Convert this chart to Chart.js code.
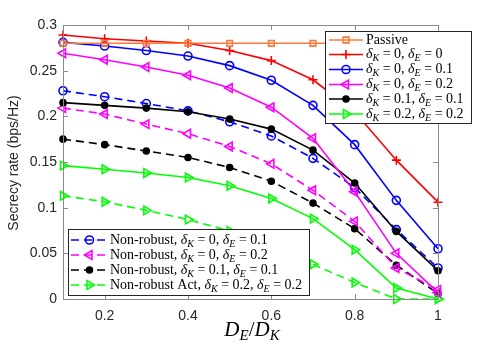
<!DOCTYPE html>
<html lang="en">
<head>
    <meta charset="UTF-8">
    <title>Secrecy rate vs DE/DK</title>
    <script src="https://cdn.jsdelivr.net/npm/chart.js"></script>
    <style>
        html, body { margin: 0; padding: 0; background: #fff; }
        #wrap { width: 485px; height: 346px; }
    </style>
</head>
<body>
    <div id="wrap"><canvas id="rateChart" width="485" height="346"></canvas></div>

    <script>
        // x axis: D_E / D_K
        const ratios = [0.1, 0.2, 0.3, 0.4, 0.5, 0.6, 0.7, 0.8, 0.9, 1.0];
        const xTicks = [0.2, 0.4, 0.6, 0.8, 1];
        const yTicks = [0, 0.05, 0.1, 0.15, 0.2, 0.25, 0.3];

        // secrecy rate (bps/Hz)
        const passive      = [0.28, 0.28, 0.28, 0.28, 0.28, 0.28, 0.28, 0.28, 0.28, 0.28];
        const robust_0_0   = [0.289, 0.285, 0.2825, 0.280, 0.272, 0.261, 0.240, 0.205, 0.152, 0.106];
        const robust_0_01  = [0.281, 0.277, 0.272, 0.266, 0.2555, 0.2395, 0.212, 0.169, 0.108, 0.055];
        const robust_0_02  = [0.269, 0.262, 0.254, 0.245, 0.231, 0.210, 0.176, 0.1175, 0.050, 0.007];
        const robust_01_01 = [0.215, 0.212, 0.209, 0.205, 0.197, 0.186, 0.163, 0.127, 0.074, 0.031];
        const robust_02_02 = [0.146, 0.142, 0.138, 0.133, 0.124, 0.110, 0.088, 0.054, 0.012, 0.0];
        const naive_0_01   = [0.228, 0.2215, 0.214, 0.206, 0.194, 0.1785, 0.154, 0.122, 0.076, 0.034];
        const naive_0_02   = [0.209, 0.2025, 0.1915, 0.181, 0.167, 0.148, 0.119, 0.085, 0.034, 0.010];
        const naive_01_01  = [0.175, 0.169, 0.162, 0.155, 0.144, 0.129, 0.105, 0.077, 0.037, 0.006];
        const naiveAct_02  = [0.113, 0.1065, 0.097, 0.087, 0.0745, 0.057, 0.038, 0.018, 0.0, 0.0];

        const series = [
            { label: 'Passive', data: passive, color: 'rgb(255,120,60)', dash: [], marker: 'rect', rot: 0, fill: false, r: 4, legend: 1 },
            { label: '$δ_K = 0$, $δ_E = 0$', data: robust_0_0, color: '#ff0000', dash: [], marker: 'cross', rot: 0, fill: false, r: 4.5, legend: 1 },
            { label: '$δ_K = 0$, $δ_E = 0.1$', data: robust_0_01, color: '#0000ff', dash: [], marker: 'circle', rot: 0, fill: false, r: 4, legend: 1 },
            { label: '$δ_K = 0$, $δ_E = 0.2$', data: robust_0_02, color: '#ff00ff', dash: [], marker: 'triangle', rot: -90, fill: false, r: 5, legend: 1 },
            { label: '$δ_K = 0.1$, $δ_E = 0.1$', data: robust_01_01, color: '#000000', dash: [], marker: 'circle', rot: 0, fill: true, r: 3, legend: 1 },
            { label: '$δ_K = 0.2$, $δ_E = 0.2$', data: robust_02_02, color: '#00ff00', dash: [], marker: 'triangle', rot: 90, fill: false, r: 5, legend: 1 },
            { label: 'Non-robust, $δ_K = 0$, $δ_E = 0.1$', data: naive_0_01, color: '#0000ff', dash: [8, 5], marker: 'circle', rot: 0, fill: false, r: 4, legend: 2 },
            { label: 'Non-robust, $δ_K = 0$, $δ_E = 0.2$', data: naive_0_02, color: '#ff00ff', dash: [8, 5], marker: 'triangle', rot: -90, fill: false, r: 5, legend: 2 },
            { label: 'Non-robust, $δ_K = 0.1$, $δ_E = 0.1$', data: naive_01_01, color: '#000000', dash: [8, 5], marker: 'circle', rot: 0, fill: true, r: 3, legend: 2 },
            { label: 'Non-robust Act, $δ_K = 0.2$, $δ_E = 0.2$', data: naiveAct_02, color: '#00ff00', dash: [8, 5], marker: 'triangle', rot: 90, fill: false, r: 5, legend: 2 }
        ];

        const SERIF = '"Liberation Serif", "DejaVu Serif", serif';
        const SANS = '"Liberation Sans", Arial, sans-serif';

        // draw text with $math$ parts: letters italic, _X subscripts
        function richParts(str, size) {
            const parts = [];
            let math = false;
            for (let i = 0; i < str.length; i++) {
                const c = str[i];
                if (c === '$') { math = !math; continue; }
                if (math && c === '_') {
                    parts.push({ t: str[i + 1], font: 'italic ' + Math.round(size * 0.72) + 'px ' + SERIF, dy: size * 0.28 });
                    i++;
                    continue;
                }
                const italic = math && /[A-Za-zδ]/.test(c);
                parts.push({ t: c, font: (italic ? 'italic ' : '') + size + 'px ' + SERIF, dy: 0 });
            }
            return parts;
        }

        function richWidth(ctx, str, size) {
            let w = 0;
            richParts(str, size).forEach(p => { ctx.font = p.font; w += ctx.measureText(p.t).width; });
            return w;
        }

        function drawRich(ctx, str, x, y, size) {
            ctx.textBaseline = 'middle';
            ctx.textAlign = 'left';
            richParts(str, size).forEach(p => {
                ctx.font = p.font;
                ctx.fillText(p.t, x, y + p.dy);
                x += ctx.measureText(p.t).width;
            });
        }

        function drawLegend(ctx, items, box, rows, lineX0, lineX1, textX, size) {
            ctx.save();
            ctx.fillStyle = '#fff';
            ctx.fillRect(box.x, box.y, box.w, box.h);
            ctx.strokeStyle = '#262626';
            ctx.lineWidth = 1;
            ctx.strokeRect(box.x + 0.5, box.y + 0.5, box.w, box.h);
            items.forEach((s, i) => {
                const y = rows[i];
                ctx.strokeStyle = s.color;
                ctx.lineWidth = 1.6;
                ctx.setLineDash(s.dash);
                ctx.beginPath();
                ctx.moveTo(lineX0, y);
                ctx.lineTo(lineX1, y);
                ctx.stroke();
                ctx.setLineDash([]);
                ctx.fillStyle = s.fill ? s.color : 'rgba(0,0,0,0)';
                Chart.helpers.drawPoint(ctx, { pointStyle: s.marker, radius: s.r, rotation: s.rot, borderWidth: 1.6 }, (lineX0 + lineX1) / 2, y);
                ctx.fillStyle = '#000';
                drawRich(ctx, s.label, textX, y, size);
            });
            ctx.restore();
        }

        const decorations = {
            id: 'decorations',
            afterDatasetsDraw(chart) {
                const ctx = chart.ctx;
                const a = chart.chartArea;
                const xs = chart.scales.x, ys = chart.scales.y;
                ctx.save();
                // axes box + inward ticks on all sides
                ctx.strokeStyle = '#8a8a8a';
                ctx.lineWidth = 1;
                ctx.strokeRect(Math.round(a.left) + 0.5, Math.round(a.top) + 0.5, Math.round(a.right - a.left), Math.round(a.bottom - a.top));
                ctx.beginPath();
                xTicks.forEach(v => {
                    const px = Math.round(xs.getPixelForValue(v)) + 0.5;
                    ctx.moveTo(px, a.bottom); ctx.lineTo(px, a.bottom - 5);
                    ctx.moveTo(px, a.top); ctx.lineTo(px, a.top + 5);
                });
                yTicks.forEach(v => {
                    const py = Math.round(ys.getPixelForValue(v)) + 0.5;
                    ctx.moveTo(a.left, py); ctx.lineTo(a.left + 5, py);
                    ctx.moveTo(a.right, py); ctx.lineTo(a.right - 5, py);
                });
                ctx.stroke();

                // axis titles
                ctx.fillStyle = '#262626';
                ctx.font = '14px ' + SANS;
                ctx.textAlign = 'center';
                ctx.textBaseline = 'middle';
                ctx.save();
                ctx.translate(14, 163);
                ctx.rotate(-Math.PI / 2);
                ctx.fillText('Secrecy rate (bps/Hz)', 0, 0);
                ctx.restore();
                const xt = '$D_E/D_K$';
                const w = richWidth(ctx, xt, 21);
                ctx.fillStyle = '#000';
                drawRich(ctx, xt, 252 - w / 2, 330, 21);
                ctx.restore();

                // legends
                drawLegend(ctx, series.filter(s => s.legend === 1),
                    { x: 325, y: 31, w: 146, h: 92 },
                    [40, 54.5, 69.5, 84.5, 99, 114], 329, 363, 366, 14);
                drawLegend(ctx, series.filter(s => s.legend === 2),
                    { x: 68, y: 229, w: 241, h: 66 },
                    [240, 255, 270, 285], 71, 108, 110, 14);
            }
        };

        const ctx = document.getElementById('rateChart').getContext('2d');
        const chart = new Chart(ctx, {
            type: 'line',
            data: {
                datasets: series.map(s => ({
                    label: s.label,
                    data: ratios.map((x, i) => ({ x: x, y: s.data[i] })),
                    borderColor: s.color,
                    backgroundColor: s.fill ? s.color : 'rgba(0,0,0,0)',
                    borderWidth: 1.6,
                    borderDash: s.dash,
                    pointStyle: s.marker,
                    pointRotation: s.rot,
                    pointRadius: s.r,
                    pointBorderWidth: 1.6,
                    pointBorderColor: s.color,
                    pointBackgroundColor: s.fill ? s.color : 'rgba(0,0,0,0)',
                    tension: 0,
                    clip: false
                }))
            },
            options: {
                responsive: false,
                animation: false,
                events: [],
                layout: { padding: { top: 25, right: 47, left: 0, bottom: 0 } },
                plugins: { legend: { display: false }, tooltip: { enabled: false } },
                scales: {
                    x: {
                        type: 'linear',
                        min: 0.1,
                        max: 1,
                        grid: { display: false, drawTicks: false },
                        border: { display: false },
                        afterBuildTicks: sc => { sc.ticks = xTicks.map(v => ({ value: v })); },
                        afterFit: sc => { sc.height = 47; },
                        ticks: {
                            padding: 9,
                            color: '#262626',
                            font: { family: SANS, size: 14 },
                            maxRotation: 0,
                            callback: v => String(v)
                        }
                    },
                    y: {
                        min: 0,
                        max: 0.3,
                        grid: { display: false, drawTicks: false },
                        border: { display: false },
                        afterBuildTicks: sc => { sc.ticks = yTicks.map(v => ({ value: v })); },
                        afterFit: sc => { sc.width = 63; },
                        ticks: {
                            padding: 6,
                            color: '#262626',
                            font: { family: SANS, size: 14 },
                            callback: v => String(v)
                        }
                    }
                }
            },
            plugins: [decorations]
        });
    </script>
</body>
</html>
